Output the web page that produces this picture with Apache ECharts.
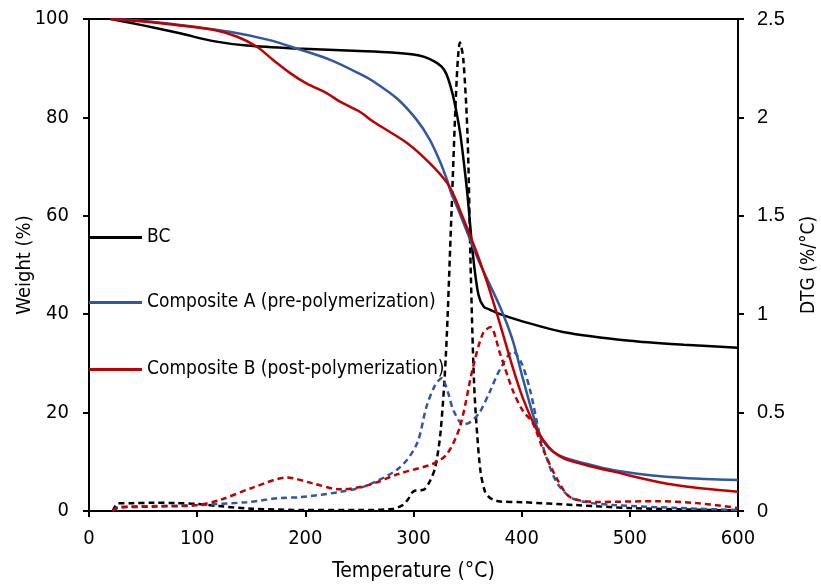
<!DOCTYPE html>
<html><head><meta charset="utf-8">
<script src="https://cdn.jsdelivr.net/npm/echarts@6/dist/echarts.min.js"></script>
<style>html,body{margin:0;padding:0;background:#fff}#c{width:821px;height:586px}</style>
</head><body><div id="c"></div>
<script>
const xTicks = [0,100,200,300,400,500,600];
const names = ['BC','Composite A (pre-polymerization)','Composite B (post-polymerization)'];

const tW_BC = [20,50,84,115,146,192,250,280,300,310,320,326,330,334,338,343,347,350,355,360,365,370,380,400,438,500,550,600];
const wBC   = [100,98.7,97.1,95.5,94.6,94,93.5,93.2,92.8,92.3,91.3,90.3,89,86.5,83,77,70,64,52,44,41.5,41,40,38.6,36.4,34.6,33.8,33.2];

const tW_A = [20,50,84,130,167,192,223,250,263,285,303,315,324,331,335,340,361,380,392,401,415,425,438,460,485,531,570,600];
const wA   = [100,99.6,98.8,97.4,95.7,94,91.7,88.9,87.3,83.8,79.5,75.5,71.3,67.3,64.5,62,50.5,41.5,34.5,27,16.5,12.8,11,9.6,8.3,7,6.5,6.3];

const tW_B = [20,50,84,115,137,155,170,186,201,220,232,250,263,294,315,331,338,345,355,361,368,374,380,392,401,414,425,438,460,485,531,570,600];
const wB   = [100,99.5,98.7,97.8,96.4,94.4,91.7,89,86.9,84.9,83.2,81.2,79.1,74.8,70.7,66.7,63.8,60,54.5,51,46.5,42.3,38,29,23,16.5,13,10.8,9.3,8,5.7,4.5,3.9];

const tD_BC = [22,27,40,60,80,100,120,150,200,250,280,290,295,300,310,315,320,325,330,335,340,343,346,350,353,356,359,362,366,370,375,380,400,450,500,550,600];
const dBC   = [0,0.04,0.04,0.042,0.04,0.036,0.025,0.012,0.005,0.005,0.01,0.03,0.06,0.1,0.11,0.15,0.22,0.4,0.8,1.5,2.2,2.38,2.3,1.9,1.2,0.65,0.38,0.2,0.1,0.07,0.055,0.048,0.045,0.03,0.015,0.008,0.002];

const tD_A = [22,27,60,100,146,177,195,232,257,287,303,312,320,326,332,337,346,352,361,370,380,392,400,408,417,425,433,445,460,485,546,600];
const dA   = [0,0.02,0.025,0.03,0.045,0.066,0.07,0.097,0.13,0.22,0.34,0.53,0.64,0.675,0.6,0.51,0.44,0.45,0.5,0.6,0.72,0.81,0.75,0.61,0.38,0.24,0.14,0.07,0.045,0.03,0.015,0.005];

const tD_B = [22,27,60,100,121,152,183,207,232,257,287,318,331,343,355,364,371,380,392,401,410,420,433,445,470,525,562,600];
const dB   = [0,0.017,0.022,0.03,0.056,0.12,0.17,0.14,0.11,0.13,0.19,0.24,0.29,0.43,0.73,0.9,0.935,0.8,0.61,0.51,0.45,0.31,0.16,0.07,0.046,0.05,0.04,0.015];

const zip = (a,b)=>a.map((v,i)=>[v,b[i]]);
const FONT = "'DejaVu Sans Condensed','Liberation Sans Narrow',sans-serif";
const FONT2 = "'Liberation Sans',Arial,sans-serif";
const BLACK='#000000', BLUE='#2F58A0', RED='#C00000';

const chart = echarts.init(document.getElementById('c'), null, {renderer:'canvas'});
function solid(name,color,t,v){return {name,type:'line',yAxisIndex:0,data:zip(t,v),symbol:'none',smooth:0.3,lineStyle:{color,width:2.5},itemStyle:{color},z:3};}
function dashed(name,color,t,v){return {name,type:'line',yAxisIndex:1,data:zip(t,v),symbol:'none',smooth:0.3,lineStyle:{color,width:2.5,type:[6,4]},itemStyle:{color},z:2};}
function leg(n,top){return {data:[n],left:89,top,padding:0,icon:'rect',itemWidth:53,itemHeight:3,itemGap:0,textStyle:{fontSize:19,color:'#000',fontFamily:FONT}};}

chart.setOption({
  animation:false,
  backgroundColor:'#fff',
  grid:{left:89,right:83,top:19,bottom:75,show:true,borderColor:'#000',borderWidth:2,containLabel:false,outerBoundsMode:'none'},
  legend:[leg(names[0],228),leg(names[1],293),leg(names[2],360)],
  xAxis:{type:'value',min:0,max:600,interval:100,name:'Temperature (°C)',nameLocation:'middle',nameGap:50,
    nameTextStyle:{fontSize:21,color:'#000',fontFamily:FONT},
    axisLine:{lineStyle:{color:'#000',width:2}},axisTick:{show:true,length:6,lineStyle:{color:'#000',width:2}},
    axisLabel:{fontSize:20,color:'#000',fontFamily:FONT,margin:18},splitLine:{show:false}},
  yAxis:[
    {type:'value',min:0,max:100,interval:20,name:'Weight (%)',nameLocation:'middle',nameGap:54,nameMoveOverlap:false,
     nameTextStyle:{fontSize:20,color:'#000',fontFamily:FONT},
     axisLine:{show:true,lineStyle:{color:'#000',width:2}},axisTick:{show:true,length:6,lineStyle:{color:'#000',width:2}},
     axisLabel:{fontSize:20,color:'#000',fontFamily:FONT,margin:20},splitLine:{show:false}},
    {type:'value',min:0,max:2.5,interval:0.5,name:'DTG (%/°C)',nameLocation:'middle',nameGap:62,nameRotate:90,
     nameTextStyle:{fontSize:19,color:'#000',fontFamily:FONT},
     axisLine:{show:true,lineStyle:{color:'#000',width:2}},axisTick:{show:true,length:6,lineStyle:{color:'#000',width:2}},
     axisLabel:{fontSize:20,color:'#000',fontFamily:FONT2,margin:19},splitLine:{show:false}}
  ],
  series:[
    dashed('BC DTG',BLACK,tD_BC,dBC),
    dashed('A DTG',BLUE,tD_A,dA),
    dashed('B DTG',RED,tD_B,dB),
    solid(names[0],BLACK,tW_BC,wBC),
    solid(names[1],BLUE,tW_A,wA),
    solid(names[2],RED,tW_B,wB)
  ]
});
</script></body></html>
